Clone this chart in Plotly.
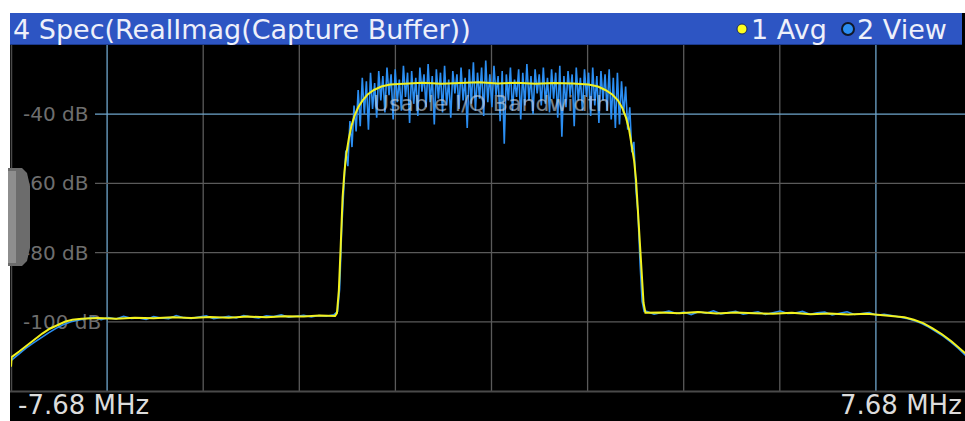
import numpy as np
import plotly.graph_objects as go

# ---- figure geometry (pixels) ----
W, H = 965, 421
ML, MT, MB = 11, 45, 30

# ---- axis settings ----
span_start_mhz = -7.68
span_stop_mhz = 7.68
ref_db_top, ref_db_bottom = -20, -120
y_tick_db = [-40, -60, -80, -100]
y_tick_text = ["-40 dB", "-60 dB", "-80 dB", "-100 dB"]
x_div_mhz = [-4.608, -3.072, -1.536, 0.0, 1.536, 3.072, 4.608]
bw_marker_mhz = [-6.144, 6.144]

# ---- trace 2 (View): noisy spectrum, three sweeps of bins ----
view_left_db = [
    -111.2, -109.3, -107.6, -106.1, -104.6, -103.2, -101.9, -100.8, -100.0, -99.5,
    -99.1, -98.6, -99.4, -98.8, -99.2, -98.4, -99.0, -98.9, -99.3, -98.5,
    -98.9, -99.1, -98.2, -98.8, -99.0, -98.6, -98.3, -99.1, -98.7, -98.4,
    -98.9, -98.2, -98.6, -98.9, -98.3, -98.5, -98.0, -98.7, -98.4, -98.1,
    -98.6, -98.2, -98.4, -98.0,
]
view_band_db = [
    -97.0, -90.5, -73.0, -61.5, -50.5, -55.0, -42.0, -49.5, -37.5, -45.0,
    -33.0, -43.5, -29.5, -40.0, -30.5, -44.5, -28.0, -38.5, -31.0, -41.0,
    -27.5, -36.0, -29.0, -39.5, -26.5, -34.5, -28.5, -41.5, -27.0, -36.5,
    -30.0, -39.0, -26.0, -35.0, -28.0, -42.5, -27.5, -37.0, -29.5, -40.5,
    -26.5, -33.5, -28.5, -38.0, -25.5, -36.5, -29.0, -43.0, -27.0, -35.5,
    -28.0, -39.5, -26.0, -37.5, -30.0, -41.0, -27.5, -34.0, -28.5, -38.5,
    -26.5, -36.0, -29.5, -44.0, -27.0, -37.0, -25.0, -39.0, -28.0, -35.5,
    -26.5, -40.5, -24.5, -36.5, -28.5, -38.0, -26.0, -34.5, -29.0, -42.0,
    -27.5, -48.5, -28.5, -36.0, -26.5, -39.0, -30.0, -35.0, -27.0, -41.5,
    -28.0, -37.5, -25.5, -36.0, -29.0, -40.0, -27.0, -34.0, -28.5, -37.5,
    -26.5, -37.0, -29.5, -39.5, -27.0, -35.5, -28.0, -41.0, -26.0, -46.5,
    -29.0, -38.0, -27.5, -34.5, -28.5, -43.5, -26.5, -36.0, -29.5, -39.0,
    -27.0, -35.0, -28.0, -40.5, -26.5, -37.5, -29.0, -42.5, -27.5, -36.0,
    -28.5, -39.0, -27.0, -41.5, -29.5, -44.0, -28.0, -43.0, -30.5, -40.0,
    -32.0, -44.5, -38.0, -51.0, -48.0, -62.0, -68.5, -83.0, -94.0, -97.0,
]
view_right_db = [
    -97.0, -97.8, -97.3, -96.9, -97.6, -97.2, -97.9, -97.1, -97.5, -96.8,
    -97.7, -97.3, -97.0, -97.8, -97.4, -97.1, -97.9, -97.3, -96.9, -97.6,
    -97.5, -97.0, -97.8, -97.4, -97.2, -98.0, -97.5, -97.1, -97.9, -97.6,
    -97.3, -98.1, -97.8, -98.2, -98.5, -99.0, -99.6, -100.4, -101.5, -102.8,
    -104.2, -105.9, -107.7, -109.8,
]
view_left_mhz = np.linspace(-7.68, -2.52, len(view_left_db))
view_band_mhz = np.linspace(-2.46, 2.44, len(view_band_db))
view_right_mhz = np.linspace(2.48, 7.58, len(view_right_db))

# ---- trace 1 (Avg): averaged spectrum ----
avg_mhz = [
    -7.68, -7.67, -7.55, -7.42, -7.30, -7.18, -7.06, -6.94, -6.82, -6.70, -6.55, -6.30,
    -6.00, -5.70, -5.40, -5.10, -4.80, -4.50, -4.20, -3.90, -3.60, -3.30, -3.00, -2.75,
    -2.50, -2.47, -2.44, -2.41, -2.38, -2.35, -2.32, -2.28, -2.24, -2.19, -2.13, -2.06,
    -1.98, -1.88, -1.76, -1.62, -1.40, -1.10, -0.80, -0.50, -0.20, 0.10, 0.40, 0.70,
    1.00, 1.30, 1.55, 1.70, 1.82, 1.93, 2.02, 2.09, 2.15, 2.20, 2.24, 2.28, 2.31, 2.34,
    2.37, 2.40, 2.43, 2.46, 2.70, 3.00, 3.30, 3.60, 3.90, 4.20, 4.50, 4.80, 5.10, 5.40,
    5.70, 6.00, 6.25, 6.45, 6.60, 6.75, 6.90, 7.05, 7.20, 7.35, 7.50, 7.60,
]
avg_db = [
    -113.0, -110.2, -108.6, -106.8, -105.0, -103.4, -102.0, -100.9, -100.0, -99.4, -99.1, -98.9,
    -99.1, -98.8, -99.0, -98.7, -98.9, -98.6, -98.8, -98.5, -98.7, -98.4, -98.5, -98.2,
    -98.3, -97.5, -91.0, -78.0, -64.0, -56.5, -51.5, -47.0, -43.5, -40.5, -38.0, -36.0,
    -34.3, -33.0, -32.0, -31.4, -31.1, -30.9, -31.2, -31.0, -30.8, -31.1, -30.9, -31.2,
    -31.0, -31.1, -31.4, -32.0, -33.0, -34.3, -36.0, -38.2, -41.0, -44.5, -48.5, -53.5, -59.0, -68.0,
    -76.0, -84.0, -94.5, -97.4, -97.3, -97.5, -97.2, -97.6, -97.3, -97.5, -97.7, -97.4, -97.8, -97.6,
    -97.9, -97.7, -98.1, -98.3, -98.7, -99.4, -100.4, -101.9, -103.6, -105.6, -107.8, -109.5,
]

# ---- colours ----
C_VIEW = "#2b8ef2"
C_AVG = "#f2f21e"
C_GRID = "#5a5a5a"
C_BLUE_GRID = "#6fa6cc"
C_BAR = "#2d55c3"
FONT = "DejaVu Sans"

pw, ph = W - ML, H - MT - MB
x_max = span_start_mhz + (W - ML) * (span_stop_mhz - span_start_mhz) / 961.0


def fx(px):
    return (px - ML) / pw


def fy(py):
    return (H - MB - py) / ph


fig = go.Figure()

view_x = np.concatenate([view_left_mhz, view_band_mhz, view_right_mhz])
view_y = np.concatenate([view_left_db, view_band_db, view_right_db])
fig.add_trace(go.Scatter(x=view_x, y=view_y, mode="lines", name="2 View",
                         line=dict(color=C_VIEW, width=1.6), hoverinfo="skip"))
fig.add_trace(go.Scatter(x=avg_mhz, y=avg_db, mode="lines", name="1 Avg",
                         line=dict(color=C_AVG, width=2), hoverinfo="skip"))

shapes = []
# black display area
shapes.append(dict(type="rect", xref="paper", yref="paper", layer="below",
                   x0=fx(10), x1=fx(W), y0=fy(13), y1=fy(H),
                   fillcolor="black", line=dict(width=0)))
# vertical divisions
for f in x_div_mhz:
    shapes.append(dict(type="line", xref="x", yref="paper", layer="below",
                       x0=f, x1=f, y0=0, y1=1, line=dict(color=C_GRID, width=1.3)))
for f in bw_marker_mhz:
    shapes.append(dict(type="line", xref="x", yref="paper", layer="below",
                       x0=f, x1=f, y0=0, y1=1, line=dict(color=C_BLUE_GRID, width=1.3)))
# horizontal divisions, starting after the level labels
grid_start_px = {-40: 95, -60: 95, -80: 95, -100: 108}
for db in y_tick_db:
    col = C_BLUE_GRID if db == -40 else C_GRID
    shapes.append(dict(type="line", xref="paper", yref="y", layer="below",
                       x0=fx(grid_start_px[db]), x1=1, y0=db, y1=db,
                       line=dict(color=col, width=1.3)))
# frame
shapes.append(dict(type="line", xref="paper", yref="paper", layer="below",
                   x0=fx(11.5), x1=fx(11.5), y0=0, y1=1, line=dict(color="#4a4a4a", width=1.5)))
shapes.append(dict(type="line", xref="paper", yref="paper", layer="below",
                   x0=fx(10), x1=1, y0=fy(391.5), y1=fy(391.5), line=dict(color="#4a4a4a", width=2)))
# title bar
shapes.append(dict(type="rect", xref="paper", yref="paper", layer="above",
                   x0=fx(10), x1=fx(962), y0=fy(13), y1=fy(45),
                   fillcolor=C_BAR, line=dict(width=0)))
shapes.append(dict(type="line", xref="paper", yref="paper", layer="above",
                   x0=fx(10), x1=fx(962), y0=fy(44.5), y1=fy(44.5),
                   line=dict(color="#1c3a8c", width=1)))
# trace legend dots
shapes.append(dict(type="circle", xref="paper", yref="paper", layer="above",
                   x0=fx(737), x1=fx(747), y0=fy(34), y1=fy(24),
                   fillcolor="#ffff20", line=dict(color="#1a2a60", width=1)))
shapes.append(dict(type="circle", xref="paper", yref="paper", layer="above",
                   x0=fx(842), x1=fx(854), y0=fy(35), y1=fy(23),
                   fillcolor=C_VIEW, line=dict(color="#101828", width=2)))
# side tab
tab_pts = [(8, 168), (22, 168), (27, 173), (30, 186), (30, 248), (27, 261), (22, 266), (8, 266)]
tab_path = "M " + " L ".join(f"{fx(x):.5f},{fy(y):.5f}" for x, y in tab_pts) + " Z"
shapes.append(dict(type="path", xref="paper", yref="paper", layer="above",
                   path=tab_path, fillcolor="#6c6c6c", line=dict(width=0)))
shapes.append(dict(type="rect", xref="paper", yref="paper", layer="above",
                   x0=fx(8), x1=fx(16), y0=fy(171), y1=fy(263),
                   fillcolor="#8e8e8e", line=dict(width=0)))

annotations = [
    dict(text="4 Spec(RealImag(Capture Buffer))", xref="paper", yref="paper",
         x=fx(11), y=fy(29), xanchor="left", yanchor="middle", showarrow=False,
         font=dict(family=FONT, size=27, color="#eef0fa")),
    dict(text="1 Avg", xref="paper", yref="paper",
         x=fx(749), y=fy(29), xanchor="left", yanchor="middle", showarrow=False,
         font=dict(family=FONT, size=27, color="#eef0fa")),
    dict(text="2 View", xref="paper", yref="paper",
         x=fx(855), y=fy(29), xanchor="left", yanchor="middle", showarrow=False,
         font=dict(family=FONT, size=27, color="#eef0fa")),
    dict(text="Usable I/Q Bandwidth", xref="x", yref="y",
         x=0.0, y=-36.8, xanchor="center", yanchor="middle", showarrow=False,
         opacity=0.6, font=dict(family=FONT, size=22, color="#c8d4e0")),
    dict(text="-7.68 MHz", xref="paper", yref="paper",
         x=fx(17), y=fy(404.5), xanchor="left", yanchor="middle", showarrow=False,
         borderpad=0, font=dict(family=FONT, size=26, color="#dcdcdc")),
    dict(text="7.68 MHz", xref="paper", yref="paper",
         x=fx(963), y=fy(404.5), xanchor="right", yanchor="middle", showarrow=False,
         borderpad=0, font=dict(family=FONT, size=26, color="#dcdcdc")),
]

fig.update_layout(
    width=W, height=H,
    margin=dict(l=ML, r=0, t=MT, b=MB, pad=0),
    paper_bgcolor="white",
    plot_bgcolor="rgba(0,0,0,0)",
    showlegend=False,
    shapes=shapes,
    annotations=annotations,
    xaxis=dict(range=[span_start_mhz, x_max], showgrid=False, zeroline=False,
               showticklabels=False, showline=False, ticks="", fixedrange=True),
    yaxis=dict(range=[ref_db_bottom, ref_db_top], showgrid=False, zeroline=False,
               showline=False, ticks="", tickvals=y_tick_db, ticktext=y_tick_text,
               ticklabelposition="inside", ticklabelstandoff=9, layer="below traces",
               tickfont=dict(family=FONT, size=20, color="#6e6e6e"), fixedrange=True),
)

fig.write_html("out.html", config={"displayModeBar": False})
